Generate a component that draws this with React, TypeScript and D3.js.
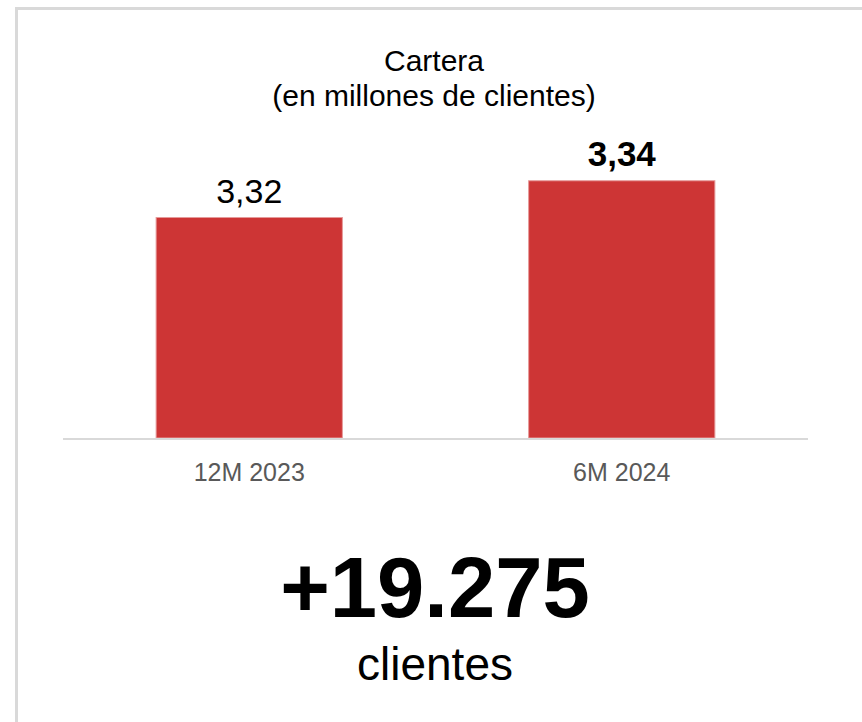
import React from "react";
import * as d3 from "d3";

const categories = ["12M 2023", "6M 2024"];
const values = [3.32, 3.34];
const valueLabels = ["3,32", "3,34"];
const boldLabel = [false, true];
const titleLines = ["Cartera", "(en millones de clientes)"];
const bigNumber = "+19.275";
const bigCaption = "clientes";

const W = 862;
const H = 722;
const FONT = "'Liberation Sans', Arial, sans-serif";

export default function App() {
  const x = d3
    .scaleBand<string>()
    .domain(categories)
    .range([63, 808])
    .paddingInner(0.5)
    .paddingOuter(0.25);
  const y = d3.scaleLinear().domain([3.2, 3.36]).range([438, 144]);
  const base = y(3.2);

  return (
    <div style={{ position: "absolute", left: 0, top: 0, width: W, height: H }}>
      <svg width={W} height={H} style={{ display: "block", fontFamily: FONT }}>
        <rect x={0} y={0} width={W} height={H} fill="#ffffff" />
        <path d={`M16.5,${H + 5} V8.5 H${W + 5}`} fill="none" stroke="#d9d9d9" strokeWidth={3} />
        <text x={434} y={71} textAnchor="middle" fontSize={30} fill="#000">
          {titleLines[0]}
        </text>
        <text x={434} y={106} textAnchor="middle" fontSize={30} fill="#000">
          {titleLines[1]}
        </text>
        {categories.map((c, i) => (
          <g key={c}>
            <rect
              x={x(c)!}
              y={y(values[i])}
              width={x.bandwidth()}
              height={base - y(values[i])}
              fill="#cd3535"
              stroke="#e69a9a"
              strokeWidth={1}
            />
            <text
              x={x(c)! + x.bandwidth() / 2}
              y={y(values[i]) - 15}
              textAnchor="middle"
              fontSize={boldLabel[i] ? 35 : 34}
              fontWeight={boldLabel[i] ? "bold" : "normal"}
              fill="#000"
            >
              {valueLabels[i]}
            </text>
            <text
              x={x(c)! + x.bandwidth() / 2}
              y={481}
              textAnchor="middle"
              fontSize={25}
              fill="#595959"
            >
              {c}
            </text>
          </g>
        ))}
        <line x1={63} x2={808} y1={base + 1} y2={base + 1} stroke="#d9d9d9" strokeWidth={2} />
        <text x={435} y={617} textAnchor="middle" fontSize={85} fontWeight="bold" fill="#000">
          {bigNumber}
        </text>
        <text x={435} y={680} textAnchor="middle" fontSize={46} fill="#000">
          {bigCaption}
        </text>
      </svg>
    </div>
  );
}
